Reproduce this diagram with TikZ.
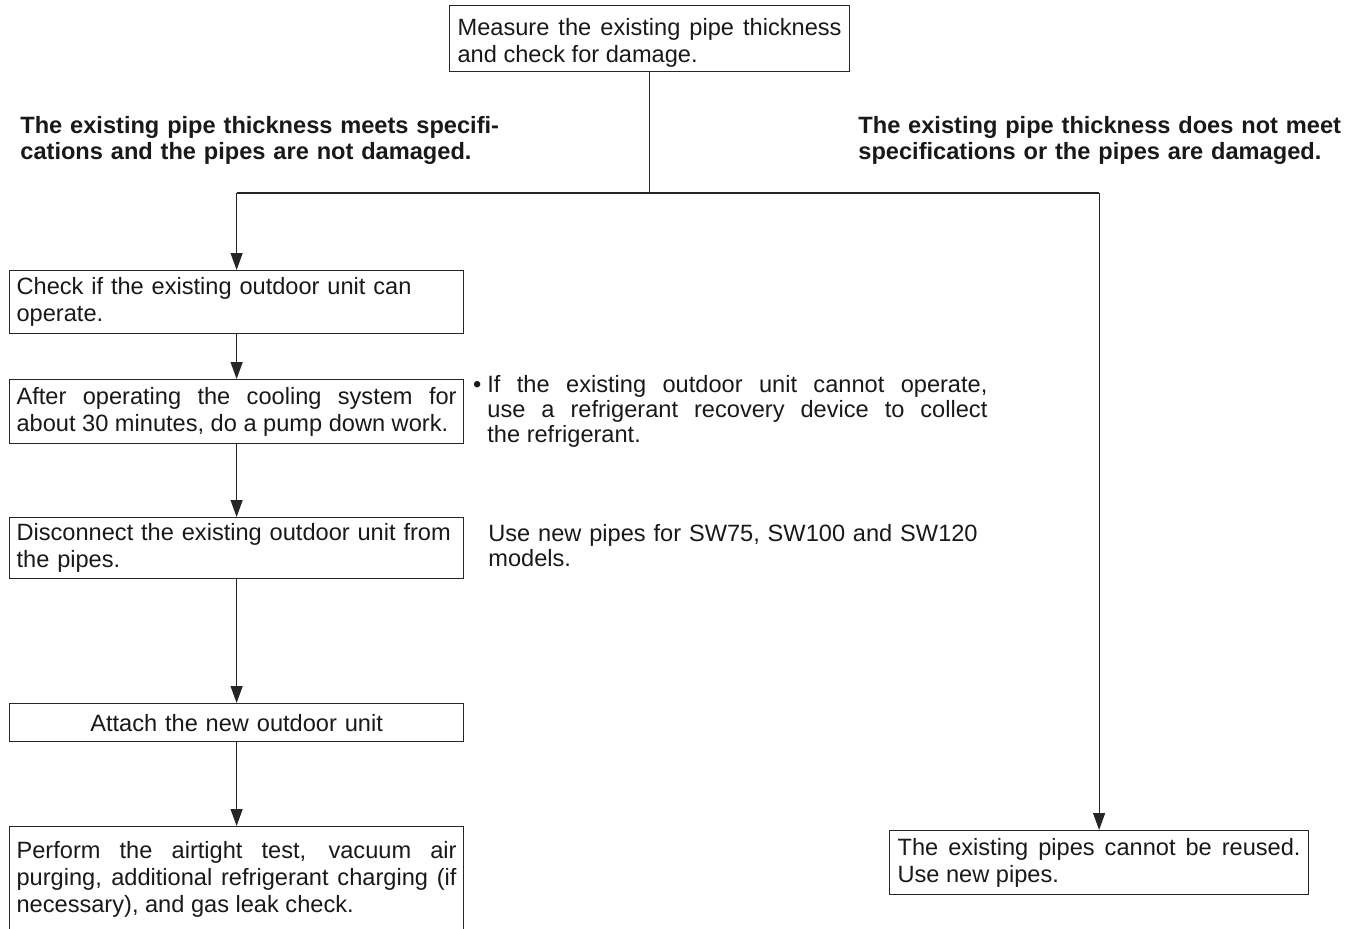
\documentclass[tikz,border=0pt]{standalone}
\usepackage{fontspec}
\setmainfont{Liberation Sans}
\usetikzlibrary{arrows.meta}
\hbadness=10000
\hfuzz=2pt

\begin{document}
\begin{tikzpicture}[x=0.5pt,y=-0.5pt,font=\fontsize{11.8}{13.5}\selectfont,
  box/.style={draw=black!85,line width=0.6pt,anchor=north west,inner xsep=3.5pt,inner ysep=0pt,text width=220pt,align=justify,text=black!90},
  note/.style={anchor=base west,inner sep=0pt,text width=250pt,align=justify,text=black!90,font=\fontsize{11.8}{12.5}\selectfont},
  lbl/.style={anchor=base west,inner sep=0pt,text width=250pt,align=left,text=black!90,font=\bfseries\fontsize{11.8}{13}\selectfont},
  arr/.style={draw=black!85,line width=0.6pt,-{Triangle[width=6pt,length=8.5pt]}}]
\useasboundingbox (0,0) rectangle (1363,928);
\node[box,inner xsep=4pt,text width=192pt,minimum height=33pt] (measure) at (449,5) {\rule{0pt}{12.5pt}Measure the existing pipe thickness\linebreak and check for damage.};
\node[lbl] (meets) at (20,133) {The existing pipe thickness meets specifi-\\cations and the pipes are not damaged.};
\node[lbl] (fails) at (858,133) {The existing pipe thickness does not meet\\specifications or the pipes are damaged.};
\node[box,align=left,minimum height=31.5pt] (check) at (9,270) {Check if the existing outdoor unit can\\operate.};
\node[box,minimum height=32pt] (pump) at (9,379) {After operating the cooling system for\linebreak about 30 minutes, do a pump down work.};
\node[box,align=left,minimum height=30.5pt] (disc) at (9,517) {Disconnect the existing outdoor unit from\\the pipes.};
\node[box,align=center,minimum height=19pt] (attach) at (9,703) {Attach the new outdoor unit};
\node[box,minimum height=52.5pt] (test) at (9,826) {Perform the airtight test, vacuum air\linebreak purging, additional refrigerant charging (if\linebreak necessary), and gas leak check.};
\node[box,inner xsep=4pt,text width=201.5pt,minimum height=32pt] (reuse) at (889,830) {The existing pipes cannot be reused.\linebreak Use new pipes.};
\node[note] (recover) at (487,392) {\leavevmode\llap{\textbullet\hspace{3pt}}If the existing outdoor unit cannot operate,\linebreak use a refrigerant recovery device to collect\linebreak the refrigerant.};
\node[note,align=left] (models) at (488,541) {Use new pipes for SW75, SW100 and SW120\\models.};
\coordinate (fork) at (measure.south |- 0,193);
\coordinate (forkL) at (check.north |- fork);
\coordinate (forkR) at (reuse.north |- fork);
\draw[draw=black!85,line width=0.6pt] (measure.south) -- (fork) (forkL) -- (forkR);
\draw[arr] (forkL) -- (check.north);
\draw[arr] (forkR) -- (reuse.north);
\foreach \a/\b in {check/pump,pump/disc,disc/attach,attach/test}
  \draw[arr] (\a.south) -- (\b.north);
\end{tikzpicture}
\end{document}
